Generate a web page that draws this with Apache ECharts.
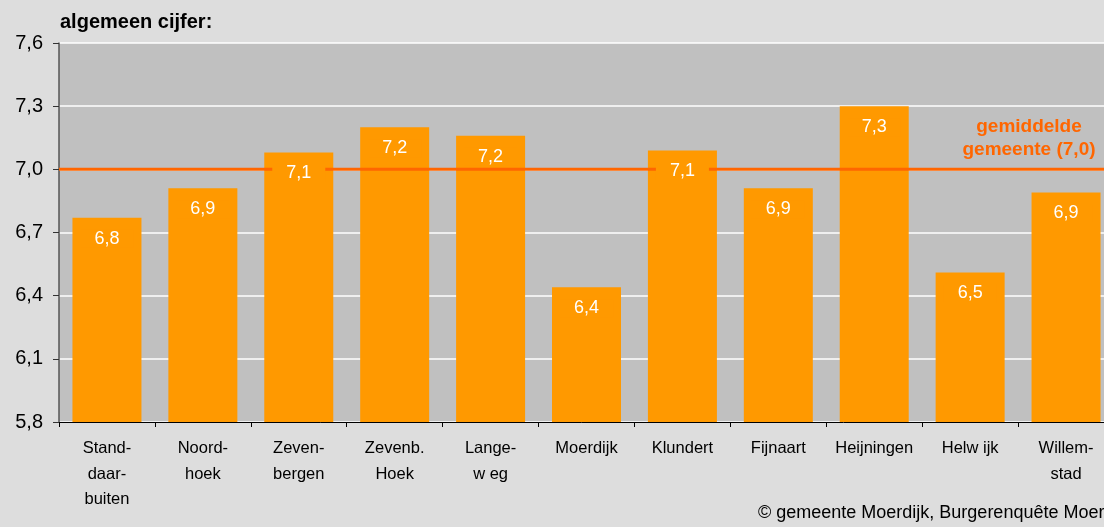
<!DOCTYPE html>
<html>
<head>
<meta charset="utf-8">
<script src="https://cdn.jsdelivr.net/npm/echarts@6/dist/echarts.min.js"></script>
<style>
  html, body { margin: 0; padding: 0; background: #dddddd; }
  #main { width: 1104px; height: 527px; }
</style>
</head>
<body>
<div id="main"></div>
<script>
// data
var categories = ['Stand-\ndaar-\nbuiten', 'Noord-\nhoek', 'Zeven-\nbergen', 'Zevenb.\nHoek', 'Lange-\nw eg',
  'Moerdijk', 'Klundert', 'Fijnaart', 'Heijningen', 'Helw ijk', 'Willem-\nstad'];
var scores = [6.77, 6.91, 7.08, 7.20, 7.16, 6.44, 7.09, 6.91, 7.30, 6.51, 6.89];
var average = 7.0;
var yTicks = [5.8, 6.1, 6.4, 6.7, 7.0, 7.3, 7.6];

function comma(v) {
  return Number(v).toFixed(1).replace('.', ',');
}

var myChart = echarts.init(document.getElementById('main'));

var option = {
  backgroundColor: '#dddddd',
  animation: false,
  textStyle: { fontFamily: 'Liberation Sans, Arial, sans-serif' },
  grid: {
    left: 59, top: 43, width: 1055, height: 379,
    outerBoundsMode: 'none',
    show: true, backgroundColor: '#c0c0c0', borderWidth: 0
  },
  xAxis: [{
    type: 'category',
    data: categories,
    boundaryGap: true,
    axisLine: { lineStyle: { color: '#000', width: 1 } },
    axisTick: { show: true, length: 5, lineStyle: { color: '#000' } },
    axisLabel: { interval: 0, color: '#000', fontSize: 16.5, lineHeight: 25.5, margin: 14 }
  }, {
    type: 'value', min: 0, max: 1, show: false
  }],
  yAxis: {
    type: 'value',
    min: 5.8, max: 7.6,
    axisLine: { show: true, lineStyle: { color: '#555', width: 1.5 } },
    axisTick: { show: true, length: 6, customValues: yTicks, lineStyle: { color: '#333' } },
    axisLabel: { customValues: yTicks, color: '#000', fontSize: 20, margin: 16, formatter: comma },
    splitLine: { show: true, lineStyle: { color: '#ffffff', width: 1.5 } }
  },
  graphic: [{
    type: 'text', left: 60, top: 12,
    style: { text: 'algemeen cijfer:', fill: '#000', font: 'bold 20px Liberation Sans, Arial, sans-serif' }
  }, {
    type: 'text', x: 1029, y: 115,
    style: {
      text: 'gemiddelde\ngemeente (7,0)', fill: '#ff6600', align: 'center', verticalAlign: 'top',
      font: 'bold 19px Liberation Sans, Arial, sans-serif', lineHeight: 23
    }
  }, {
    type: 'text', x: 758, y: 504,
    style: { text: '© gemeente Moerdijk, Burgerenquête Moerdijk', fill: '#000', font: '18px Liberation Sans, Arial, sans-serif' }
  }],
  series: [{
    name: 'cijfer',
    type: 'bar',
    data: scores,
    barWidth: 69,
    z: 2,
    itemStyle: { color: '#ff9900' }
  }, {
    name: 'gemiddelde',
    type: 'line',
    xAxisIndex: 1,
    data: [[0, average], [1, average]],
    symbol: 'none',
    z: 3,
    lineStyle: { color: '#ff6600', width: 3 }
  }, {
    name: 'labels',
    type: 'bar',
    data: scores,
    barWidth: 69,
    barGap: '-100%',
    z: 4,
    itemStyle: { color: 'rgba(0,0,0,0)' },
    label: {
      show: true, position: 'insideTop', distance: 12,
      color: '#fff', fontSize: 18, lineHeight: 18,
      backgroundColor: '#ff9900', padding: [0, 14],
      formatter: function (p) { return comma(p.value); }
    }
  }]
};

myChart.setOption(option);
</script>
</body>
</html>
